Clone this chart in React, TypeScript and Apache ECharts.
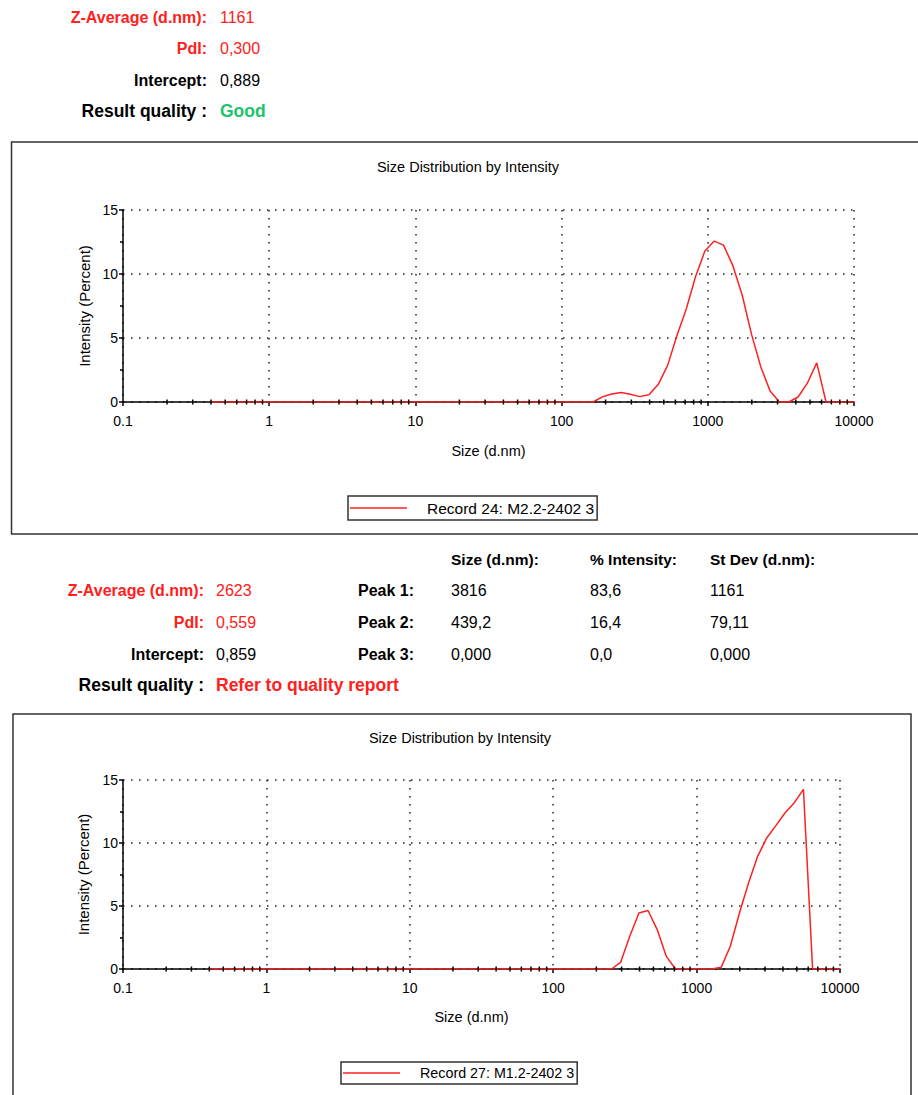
import React, { useEffect, useRef } from "react";
import * as echarts from "echarts";

// ---------- data ----------
const record24Name = "Record 24: M2.2-2402 3";
const record24Sizes = [0.4, 141.8, 164.2, 190.1, 220.2, 255, 295.3, 342, 396.1, 458.7, 531.2, 615.1, 712.4, 825, 955.4, 1106, 1281, 1484, 1718, 1990, 2305, 2669, 3091, 3580, 4145, 4801, 5560, 6439, 10000];
const record24Intensity = [0, 0, 0, 0.4, 0.62, 0.75, 0.6, 0.42, 0.57, 1.38, 2.86, 5.2, 7.27, 9.8, 11.8, 12.57, 12.26, 10.65, 8.36, 5.3, 2.73, 0.86, 0, 0, 0.39, 1.48, 3.06, 0, 0];

const record27Name = "Record 27: M1.2-2402 3";
const record27Sizes = [0.4, 255, 295.3, 342, 396.1, 458.7, 531.2, 615.1, 712.4, 1281, 1484, 1718, 1990, 2305, 2669, 3091, 3580, 4145, 4801, 5560, 6439, 10000];
const record27Intensity = [0, 0, 0.53, 2.6, 4.45, 4.64, 3.13, 1.0, 0, 0, 0.13, 1.8, 4.45, 6.84, 8.96, 10.42, 11.4, 12.4, 13.2, 14.26, 0, 0];

const chartTitle = "Size Distribution by Intensity";
const xAxisName = "Size (d.nm)";
const yAxisName = "Intensity (Percent)";

const summary1Labels = ["Z-Average (d.nm):", "PdI:", "Intercept:", "Result quality :"];
const summary1Values = ["1161", "0,300", "0,889", "Good"];

const summary2Labels = ["Z-Average (d.nm):", "PdI:", "Intercept:", "Result quality :"];
const summary2Values = ["2623", "0,559", "0,859", "Refer to quality report"];

const peakHeaders = ["Size (d.nm):", "% Intensity:", "St Dev (d.nm):"];
const peakLabels = ["Peak 1:", "Peak 2:", "Peak 3:"];
const peakSize = ["3816", "439,2", "0,000"];
const peakIntensity = ["83,6", "16,4", "0,0"];
const peakStDev = ["1161", "79,11", "0,000"];

const decadeStarts = [0.1, 1, 10, 100, 1000];
const minorMultipliers = [2, 3, 4, 5, 6, 7, 8, 9];

// ---------- styles ----------
const FONT = "'Liberation Sans', Arial, sans-serif";
const RED = "#ff2020";
const GREEN = "#1ec36a";
const BLACK = "#000000";

function txt(x: number, y: number, text: string, opt: any = {}) {
  return {
    type: "text",
    x,
    y,
    silent: true,
    style: {
      text,
      fill: opt.fill || BLACK,
      fontSize: opt.size || 16,
      fontWeight: opt.weight || "normal",
      fontFamily: FONT,
      align: opt.align || "left",
      verticalAlign: "middle",
    },
  };
}

function makeXAxis(gridIndex: number, namePad: number[], nameGap: number) {
  return {
    type: "log",
    logBase: 10,
    gridIndex,
    min: 0.1,
    max: 10000,
    name: xAxisName,
    nameLocation: "middle",
    nameGap,
    nameTextStyle: { fontSize: 14.5, color: BLACK, fontFamily: FONT, padding: namePad },
    axisLine: { show: true, onZero: false, lineStyle: { color: BLACK, width: 1.5 } },
    axisTick: { show: true, length: 4, lineStyle: { color: BLACK, width: 1.5 } },
    minorTick: { show: false },
    axisLabel: {
      fontSize: 14,
      color: BLACK,
      fontFamily: FONT,
      margin: 12,
      formatter: (v: number) => String(+Number(v).toPrecision(6)),
    },
    splitLine: { show: true, lineStyle: { color: "#222", width: 1.5, type: [1.5, 6.5] } },
  };
}

function makeYAxis(gridIndex: number, nameGap: number) {
  return {
    type: "value",
    gridIndex,
    min: 0,
    max: 15,
    interval: 5,
    name: yAxisName,
    nameLocation: "middle",
    nameGap,
    nameTextStyle: { fontSize: 15, color: BLACK, fontFamily: FONT },
    axisLine: { show: true, onZero: false, lineStyle: { color: BLACK, width: 1.5 } },
    axisTick: { show: true, length: 4, lineStyle: { color: BLACK, width: 1.5 } },
    minorTick: { show: true, splitNumber: 2, length: 3, lineStyle: { color: BLACK, width: 1.5 } },
    axisLabel: { fontSize: 14, color: BLACK, fontFamily: FONT, margin: 5 },
    splitLine: { show: true, lineStyle: { color: "#222", width: 1.5, type: [1.5, 6.5] } },
  };
}

function minorTickSeries(gridIndex: number) {
  const vals: number[][] = [];
  decadeStarts.forEach((d) => minorMultipliers.forEach((m) => vals.push([d * m, 0])));
  return {
    type: "custom",
    xAxisIndex: gridIndex,
    yAxisIndex: gridIndex,
    silent: true,
    z: 5,
    clip: false,
    data: vals,
    renderItem: (_params: any, api: any) => {
      const p = api.coord([api.value(0), api.value(1)]);
      return {
        type: "line",
        shape: { x1: p[0], y1: p[1] - 2.5, x2: p[0], y2: p[1] + 2.5 },
        style: { stroke: BLACK, lineWidth: 1.5 },
      };
    },
  };
}

function makeLegend(name: string, left: number, top: number, fontSize: number) {
  return {
    data: [name],
    left,
    top,
    orient: "horizontal",
    icon: "rect",
    padding: [4, 3, 4, 2],
    borderColor: "#333",
    borderWidth: 1.5,
    itemWidth: 57,
    itemHeight: 1.5,
    selectedMode: false,
    textStyle: { fontSize, color: BLACK, fontFamily: FONT, padding: [0, 0, 0, 15] },
  };
}

export default function App() {
  const ref = useRef<HTMLDivElement>(null);

  useEffect(() => {
    if (!ref.current) return;
    const chart = echarts.init(ref.current, undefined, { renderer: "svg" });

    const graphics: any[] = [];
    // frames
    graphics.push({
      type: "rect",
      silent: true,
      shape: { x: 11.5, y: 142, width: 930, height: 392 },
      style: { fill: "none", stroke: "#333", lineWidth: 1.5 },
    });
    graphics.push({
      type: "rect",
      silent: true,
      shape: { x: 13, y: 714, width: 898, height: 500 },
      style: { fill: "none", stroke: "#333", lineWidth: 1.5 },
    });

    // top summary
    const ys1 = [17, 48, 80, 111];
    const labCol1 = [RED, RED, BLACK, BLACK];
    const valCol1 = [RED, RED, BLACK, GREEN];
    summary1Labels.forEach((l, i) => {
      const isResult = i === 3;
      graphics.push(
        txt(207, ys1[i], l, { fill: labCol1[i], weight: "bold", size: isResult ? 17.5 : 16, align: "right" })
      );
      graphics.push(
        txt(220, ys1[i], summary1Values[i], { fill: valCol1[i], weight: isResult ? "bold" : "normal", size: isResult ? 17.5 : 16 })
      );
    });

    // middle summary
    const ys2 = [590, 622, 654, 685];
    const labCol2 = [RED, RED, BLACK, BLACK];
    const valCol2 = [RED, RED, BLACK, RED];
    summary2Labels.forEach((l, i) => {
      const isResult = i === 3;
      graphics.push(
        txt(204, ys2[i], l, { fill: labCol2[i], weight: "bold", size: isResult ? 17.5 : 16, align: "right" })
      );
      graphics.push(
        txt(216, ys2[i], summary2Values[i], { fill: valCol2[i], weight: isResult ? "bold" : "normal", size: isResult ? 17.5 : 16 })
      );
    });
    const colX = [451, 590, 710];
    peakHeaders.forEach((h, i) => graphics.push(txt(colX[i], 559, h, { weight: "bold", size: 15.5 })));
    peakLabels.forEach((p, i) => {
      graphics.push(txt(358, ys2[i], p, { weight: "bold", size: 16 }));
      graphics.push(txt(colX[0], ys2[i], peakSize[i], { size: 16 }));
      graphics.push(txt(colX[1], ys2[i], peakIntensity[i], { size: 16 }));
      graphics.push(txt(colX[2], ys2[i], peakStDev[i], { size: 16 }));
    });

    // chart titles
    graphics.push(txt(468, 167, chartTitle, { size: 14.5, align: "center" }));
    graphics.push(txt(460, 738, chartTitle, { size: 14.5, align: "center" }));

    chart.setOption({
      animation: false,
      backgroundColor: "#ffffff",
      textStyle: { fontFamily: FONT },
      grid: [
        { left: 123, top: 210, width: 731, height: 192 },
        { left: 123, top: 780, width: 717, height: 189 },
      ],
      xAxis: [makeXAxis(0, [0, 0, 0, 0], 41), makeXAxis(1, [0, 20, 0, 0], 40)],
      yAxis: [makeYAxis(0, 31), makeYAxis(1, 32.5)],
      legend: [makeLegend(record24Name, 348, 496, 15.5), makeLegend(record27Name, 341, 1062, 14.3)],
      graphic: graphics,
      series: [
        {
          name: record24Name,
          type: "line",
          xAxisIndex: 0,
          yAxisIndex: 0,
          symbol: "none",
          z: 4,
          lineStyle: { color: RED, width: 1.5 },
          itemStyle: { color: RED },
          data: record24Sizes.map((s, i) => [s, record24Intensity[i]]),
        },
        {
          name: record27Name,
          type: "line",
          xAxisIndex: 1,
          yAxisIndex: 1,
          symbol: "none",
          z: 4,
          lineStyle: { color: RED, width: 1.5 },
          itemStyle: { color: RED },
          data: record27Sizes.map((s, i) => [s, record27Intensity[i]]),
        },
        minorTickSeries(0),
        minorTickSeries(1),
      ],
    });

    return () => chart.dispose();
  }, []);

  return (
    <div
      ref={ref}
      style={{ position: "absolute", left: 0, top: 0, width: 918, height: 1095, background: "#fff" }}
    />
  );
}
